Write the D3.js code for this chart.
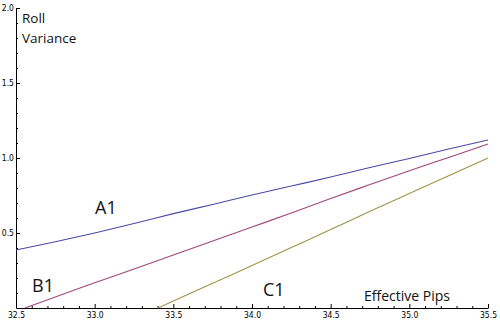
<!DOCTYPE html>
<html><head><meta charset="utf-8">
<script src="https://cdn.jsdelivr.net/npm/d3@7"></script>
<style>
html,body{margin:0;padding:0;background:#fff;}
svg{display:block;}
.tick text{font-family:"Liberation Sans Narrow","DejaVu Sans Condensed",sans-serif;font-size:8.5px;fill:#000;}
.lbl{font-family:"Open Sans",sans-serif;fill:#111;}
</style></head><body>
<svg id="c" width="500" height="326"></svg>
<script>
const xA1 = [32.5,32.75,33.0,33.25,33.5,33.75,34.0,34.25,34.5,34.75,35.0,35.25,35.5];
const yA1 = [0.387,0.442,0.5,0.563,0.629,0.69,0.753,0.813,0.873,0.937,0.997,1.06,1.12];
const xB1 = [32.557,32.75,33.0,33.25,33.5,33.75,34.0,34.25,34.5,34.75,35.0,35.25,35.5];
const yB1 = [0.0,0.073,0.168,0.26,0.354,0.447,0.54,0.633,0.73,0.823,0.915,1.004,1.093];
const xC1 = [33.403,33.5,33.75,34.0,34.25,34.5,34.75,35.0,35.25,35.5];
const yC1 = [0.0,0.046,0.165,0.283,0.403,0.523,0.645,0.763,0.881,1.0];
const seriesNames = ["A1","B1","C1"];
const seriesColors = ["#4a4aa6","#a3457c","#a39345"];
const xTicks = [32.5,33.0,33.5,34.0,34.5,35.0,35.5];
const yTicks = [0.5,1.0,1.5,2.0];

const svg = d3.select("#c");
const x = d3.scaleLinear().domain([32.5,35.5]).range([16,488]);
const y = d3.scaleLinear().domain([0,2]).range([308,8]);
const fmt = d3.format(".1f");

const xMinor = d3.range(32.6,35.5,0.1).filter(v=>Math.abs(v*2-Math.round(v*2))>1e-6);
const yMinor = d3.range(0.1,2.0,0.1).filter(v=>Math.abs(v*2-Math.round(v*2))>1e-6);

svg.append("g").attr("transform","translate(0,308)")
  .call(d3.axisBottom(x).tickValues(xMinor).tickSizeInner(-2).tickSizeOuter(0).tickFormat(""))
  .call(g=>g.select(".domain").remove())
  .call(g=>g.selectAll("line").attr("stroke","#000"));
svg.append("g").attr("transform","translate(16,0)")
  .call(d3.axisLeft(y).tickValues(yMinor).tickSizeInner(-2).tickSizeOuter(0).tickFormat(""))
  .call(g=>g.select(".domain").remove())
  .call(g=>g.selectAll("line").attr("stroke","#000"));

const xa = svg.append("g").attr("transform","translate(0,308)")
  .call(d3.axisBottom(x).tickValues(xTicks).tickSizeInner(-4).tickSizeOuter(0).tickPadding(4).tickFormat(fmt));
xa.select(".domain").attr("stroke","#000");
const ya = svg.append("g").attr("transform","translate(16,0)")
  .call(d3.axisLeft(y).tickValues(yTicks).tickSizeInner(-4).tickSizeOuter(0).tickPadding(2).tickFormat(fmt));
ya.select(".domain").attr("stroke","#000");

const data = [[xA1,yA1],[xB1,yB1],[xC1,yC1]];
const line = d3.line().x(d=>x(d[0])).y(d=>y(d[1])).curve(d3.curveMonotoneX);
data.forEach((s,i)=>{
  const pts = s[0].map((v,j)=>[v,s[1][j]]);
  svg.append("path").attr("d",line(pts)).attr("fill","none")
    .attr("stroke",seriesColors[i]).attr("stroke-width",1.1);
});

const labels = [
  {t:"Roll",x:22,y:23,s:13.5},
  {t:"Variance",x:22,y:43,s:13.5},
  {t:"A1",x:95,y:214,s:18},
  {t:"B1",x:32,y:292,s:18},
  {t:"C1",x:263,y:296,s:18},
  {t:"Effective Pips",x:364,y:301,s:14}
];
svg.selectAll("text.lbl").data(labels).enter().append("text").attr("class","lbl")
  .attr("x",d=>d.x).attr("y",d=>d.y).attr("font-size",d=>d.s).text(d=>d.t);
</script>
</body></html>
